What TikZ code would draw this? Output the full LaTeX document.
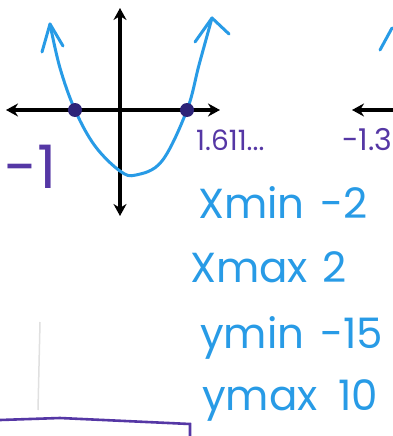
\documentclass[tikz,border=0pt]{standalone}
\usepackage{fontspec}
\setmainfont{Poppins}
\usetikzlibrary{arrows.meta}
\definecolor{penblue}{RGB}{40,155,230}
\definecolor{penpurple}{RGB}{85,55,165}
\definecolor{dotnavy}{RGB}{45,35,120}
\begin{document}
\begin{tikzpicture}[x=1pt,y=-1pt,
  axis/.style={line width=3.2pt,-{Stealth[length=12pt,width=13pt]}},
  axis2/.style={line width=3.2pt,{Stealth[length=12pt,width=13pt]}-{Stealth[length=12pt,width=13pt]}},
  curve/.style={penblue,line width=3pt,line cap=round},
  handtext/.style={penblue,font=\fontsize{42}{42}\selectfont,anchor=base west,inner sep=0pt},
  purp/.style={penpurple,inner sep=0pt},
  root/.style={circle,fill=dotnavy,minimum size=14pt,inner sep=0pt}]
\useasboundingbox (0,0) rectangle (392,436);
\fill[white] (0,0) rectangle (392,436);
% axes
\coordinate (xl) at (6,110);
\coordinate (xr) at (220,110);
\coordinate (yt) at (120,8);
\coordinate (yb) at (120,216);
\draw[axis2] (xl) -- (xr);
\draw[axis2] (yt) -- (yb);
% parabola
\coordinate (lt) at (50,24);
\coordinate (rt) at (212,18);
\draw[curve] plot[smooth,tension=0.6] coordinates {(50,24) (60,68) (75,110) (95,146) (120,171) (136,175) (162,161) (187,110) (199,65) (212,18)};
\draw[curve,line join=round] (42,52) -- (lt) -- (63,46);
\draw[curve,line join=round] (195,42) -- (rt) -- (229,34);
% roots
\node[root] (r1) at (75,110) {};
\node[root] (r2) at (187,110) {};
% labels
\node[purp,font=\fontsize{60}{60}\selectfont,anchor=base west] (m1) at (4,188) {-1};
\node[purp,font=\fontsize{28}{28}\selectfont,anchor=base west] (p1) at (196,150) {1.611...};
\node[purp,font=\fontsize{30}{30}\selectfont,anchor=base west] (m13) at (342,150) {-1.3};
% next graph fragments
\coordinate (nx) at (394,110);
\coordinate (nxe) at (352,110);
\draw[axis] (nx) -- (nxe);
\coordinate (nc1) at (380,50);
\coordinate (nc2) at (392,28);
\draw[curve] (nc1) -- (nc2);
% window values
\node[handtext] (xmin) at (198,218) {Xmin};
\node[handtext] (xminv) at (320,218) {-2};
\node[handtext] (xmax) at (190,282) {Xmax};
\node[handtext] (xmaxv) at (322,282) {2};
\node[handtext] (ymin) at (200,348) {ymin};
\node[handtext] (yminv) at (320,348) {-15};
\node[handtext] (ymax) at (202,410) {ymax};
\node[handtext] (ymaxv) at (338,410) {10};
% bottom box and faint line
\coordinate (b1) at (0,420);
\coordinate (b2) at (190,424);
\coordinate (b3) at (190,436);
\draw[penpurple,line width=2.6pt] (b1) -- (60,418) -- (b2) -- (b3);
\coordinate (f1) at (40,322);
\coordinate (f2) at (38,410);
\draw[black!12,line width=1.5pt] (f1) -- (f2);
\end{tikzpicture}
\end{document}
